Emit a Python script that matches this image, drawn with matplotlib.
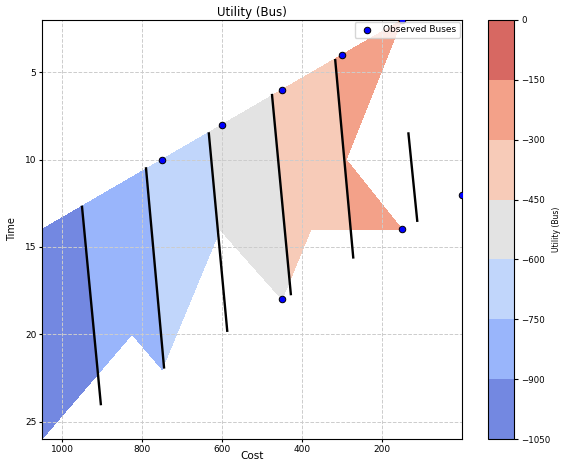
import matplotlib.pyplot as plt
import matplotlib.tri as mtri

# observed buses (cost, time)
obs_cost = [750, 600, 450, 300, 150, 150, 450, 0]
obs_time = [10, 8, 6, 4, 2, 14, 18, 12]

# nodes of the utility surface
node_cost = [1050, 1050, 825, 750, 750, 605, 600, 450, 450, 378, 300, 290, 150, 150]
node_time = [14, 26, 20, 10, 22, 14, 8, 18, 6, 14, 4, 10, 14, 2]
node_util = [-995, -1039, -815, -711, -754, -595, -569, -470, -427, -391, -284, -297, -185, -152]
tri_nodes = [(0, 1, 2), (0, 2, 3), (3, 2, 4), (3, 4, 5), (3, 5, 6), (6, 5, 8),
             (8, 5, 7), (8, 7, 9), (8, 9, 10), (10, 9, 11), (9, 12, 11), (10, 11, 13)]

levels = [-1050, -900, -750, -600, -450, -300, -150, 0]

# black iso-utility lines (start / end)
iso_cost_top = [950, 790, 633, 475, 317, 134]
iso_time_top = [12.7, 10.5, 8.5, 6.3, 4.3, 8.5]
iso_cost_bot = [903, 745, 587, 428, 272, 112]
iso_time_bot = [24.0, 21.9, 19.8, 17.7, 15.6, 13.5]

fig = plt.figure(figsize=(5.61, 4.61), dpi=100)
ax = fig.add_axes([0.0749, 0.0477, 0.7487, 0.909])
cax = fig.add_axes([0.870, 0.0477, 0.0463, 0.909])

tri = mtri.Triangulation(node_cost, node_time, tri_nodes)
cf = ax.tricontourf(tri, node_util, levels=levels, cmap='coolwarm', alpha=0.8)

for c0, t0, c1, t1 in zip(iso_cost_top, iso_time_top, iso_cost_bot, iso_time_bot):
    ax.plot([c0, c1], [t0, t1], color='k', lw=1.7, zorder=3)

ax.scatter(obs_cost, obs_time, s=22, c='blue', edgecolors='k', linewidths=0.7,
           zorder=4, label='Observed Buses')

ax.set_xlim(1050, 0)
ax.set_ylim(26, 2)
ax.set_xticks([1000, 800, 600, 400, 200])
ax.set_yticks([5, 10, 15, 20, 25])
ax.tick_params(labelsize=6.5, length=2.5, pad=1.5)
ax.grid(True, linestyle='--', color='#cccccc', linewidth=0.7)
ax.set_xlabel('Cost', fontsize=7.5, labelpad=-2)
ax.set_ylabel('Time', fontsize=7, labelpad=6)
ax.set_title('Utility (Bus)', fontsize=8.5, pad=3)
ax.legend(loc='upper right', fontsize=6.5, borderpad=0.4, handletextpad=0.8,
          borderaxespad=0.2)

cbar = fig.colorbar(cf, cax=cax)
cbar.set_ticks(levels)
cbar.ax.tick_params(labelsize=6.2, length=3, pad=2)
cbar.set_label('Utility (Bus)', fontsize=5.5, labelpad=1)

fig.savefig('out.png', dpi=100)
